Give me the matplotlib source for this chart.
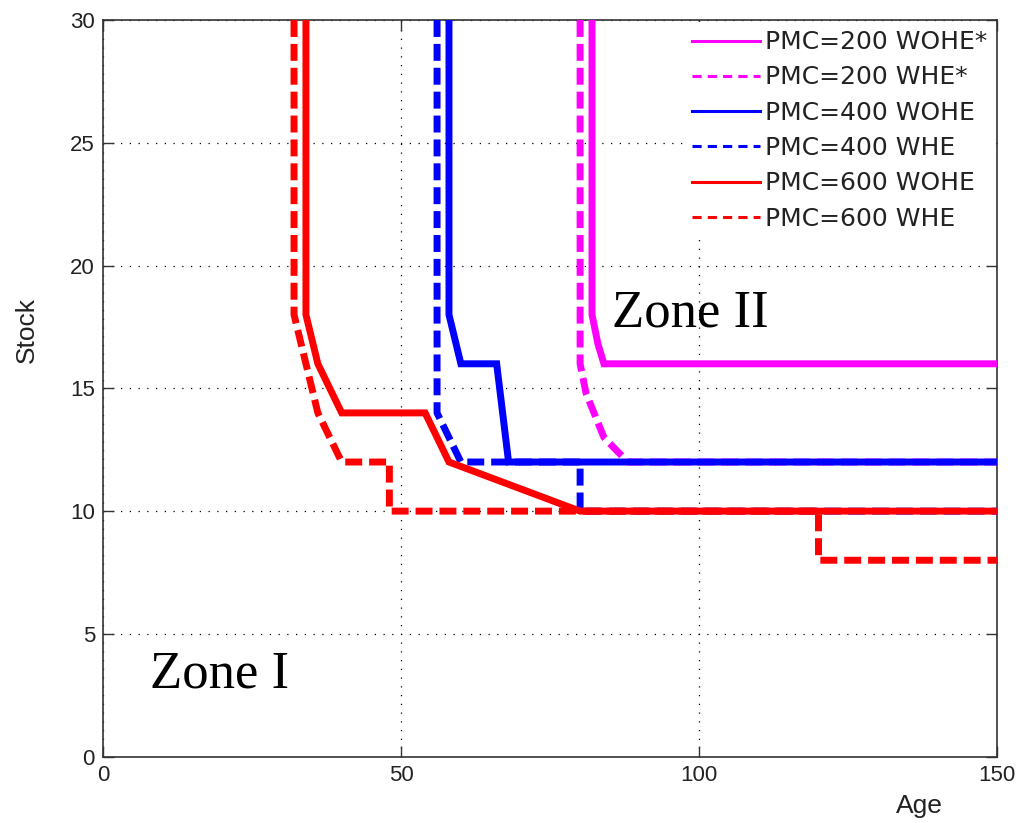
import matplotlib
matplotlib.use("Agg")
import matplotlib.pyplot as plt
from matplotlib.lines import Line2D

# ---- data ----
pmc200_wohe_x = [82, 82, 83, 84, 150]
pmc200_wohe_y = [30, 18, 16.8, 16, 16]
pmc200_whe_x = [80, 80, 81, 84, 88, 150]
pmc200_whe_y = [30, 16, 14.8, 13, 12, 12]
pmc400_wohe_x = [58, 58, 60, 66, 68, 150]
pmc400_wohe_y = [30, 18, 16, 16, 12, 12]
pmc400_whe_x = [56, 56, 60, 80, 80, 150]
pmc400_whe_y = [30, 14, 12, 12, 10, 10]
pmc600_wohe_x = [34, 34, 35, 36, 40, 54, 58, 80, 150]
pmc600_wohe_y = [30, 18, 17, 16, 14, 14, 12, 10, 10]
pmc600_whe_x = [32, 32, 33, 34, 36, 40, 48, 48, 120, 120, 150]
pmc600_whe_y = [30, 18, 17, 16, 14, 12, 12, 10, 10, 8, 8]

labels = ["PMC=200 WOHE*", "PMC=200 WHE*", "PMC=400 WOHE",
          "PMC=400 WHE", "PMC=600 WOHE", "PMC=600 WHE"]
colors = ["#ff00ff", "#ff00ff", "#0000ff", "#0000ff", "#ff0000", "#ff0000"]
x_ticks = [0, 50, 100, 150]
y_ticks = [0, 5, 10, 15, 20, 25, 30]

series = [(pmc200_wohe_x, pmc200_wohe_y), (pmc200_whe_x, pmc200_whe_y),
          (pmc400_wohe_x, pmc400_wohe_y), (pmc400_whe_x, pmc400_whe_y),
          (pmc600_wohe_x, pmc600_wohe_y), (pmc600_whe_x, pmc600_whe_y)]

W, H = 1018, 823
fig = plt.figure(figsize=(W / 100, H / 100), dpi=100)
left, right, top, bottom = 103.3, 997.3, 20, 756.7
ax = fig.add_axes([left / W, 1 - bottom / H, (right - left) / W, (bottom - top) / H])

lw = 5
for i, ((xs, ys), c) in enumerate(zip(series, colors)):
    ls = "-" if i % 2 == 0 else (0, (12.2 / lw, 5.0 / lw))
    ax.plot(xs, ys, color=c, lw=lw, linestyle=ls, solid_joinstyle="miter",
            dash_capstyle="butt", zorder=3)

ax.set_xlim(0, 150)
ax.set_ylim(0, 30)
ax.set_xticks(x_ticks)
ax.set_yticks(y_ticks)
ax.grid(True, color="black", linestyle=(0, (1, 6.0)), linewidth=0.9)
ax.set_axisbelow(True)

for s in ax.spines.values():
    s.set_color("#333333")
    s.set_linewidth(1.2)
ax.tick_params(direction="in", length=8, width=1, colors="#333333",
               top=True, right=True, labelsize=16, pad=6)
for lab in ax.get_xticklabels() + ax.get_yticklabels():
    lab.set_fontfamily("Liberation Sans")
    lab.set_color("#222222")

ax.set_xlabel("Age", fontsize=19, family="Liberation Sans", color="#222222")
ax.xaxis.set_label_coords(0.913, -0.05)
ax.set_ylabel("Stock", fontsize=19, family="Liberation Sans", color="#222222")
ax.yaxis.set_label_coords(-0.072, 0.579)

ax.text(7.8, 2.8, "Zone I", fontsize=38, family="Liberation Serif",
        ha="left", va="baseline", zorder=5)
ax.text(85.4, 17.5, "Zone II", fontsize=38, family="Liberation Serif",
        ha="left", va="baseline", zorder=5)

handles = []
for i, c in enumerate(colors):
    ls = "-" if i % 2 == 0 else (0, (3.0, 2.0))
    handles.append(Line2D([0], [0], color=c, lw=2.2, linestyle=ls))
leg = ax.legend(handles, labels, loc="upper left",
                bbox_to_anchor=(684 / W, 1 - 22 / H), bbox_transform=fig.transFigure,
                frameon=True, fancybox=False, framealpha=1, borderpad=0.33,
                borderaxespad=0, handlelength=2.72, handletextpad=0.2,
                labelspacing=0.45, prop={"family": "DejaVu Sans", "size": 18})
leg.get_frame().set_edgecolor("none")
leg.get_frame().set_facecolor("white")
leg.set_zorder(4)
for t in leg.get_texts():
    t.set_color("#222222")

fig.savefig("out.png", dpi=100)
